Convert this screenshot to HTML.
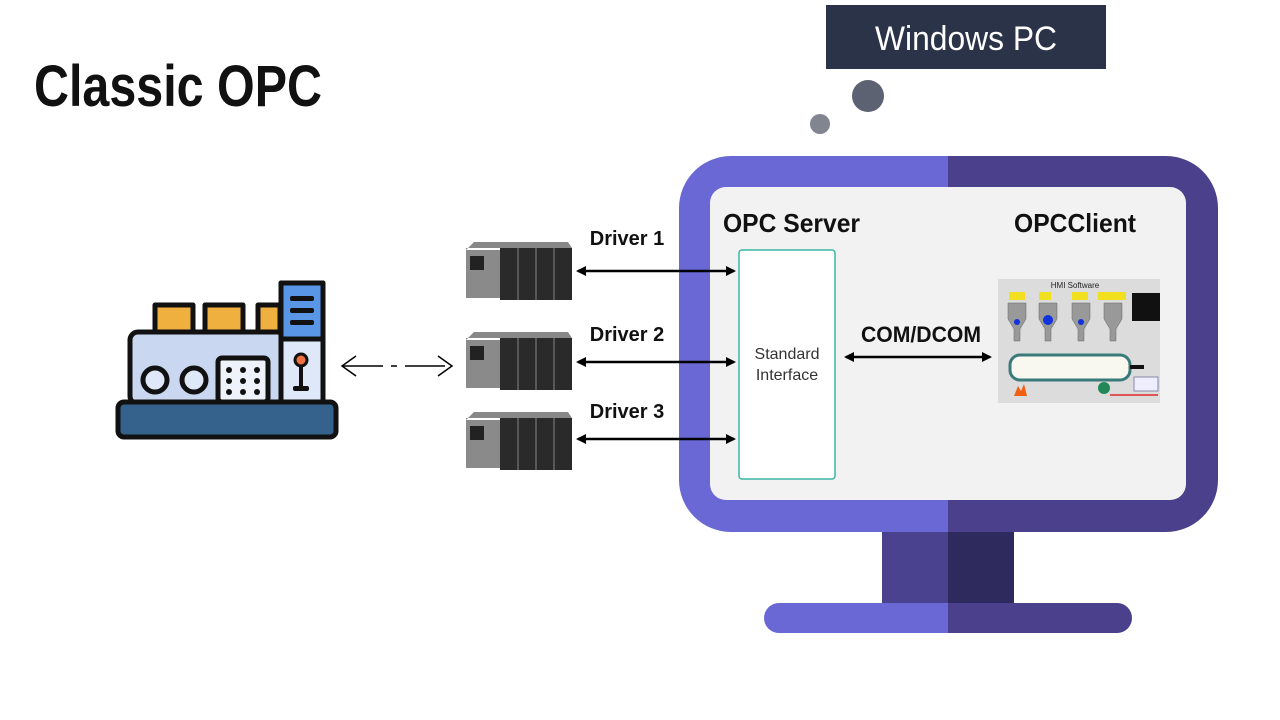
<!DOCTYPE html>
<html><head><style>
body{margin:0;width:1280px;height:720px;background:#fff;overflow:hidden}
svg{display:block}
text{font-family:"Liberation Sans",sans-serif}
</style></head><body>
<svg width="1280" height="720" viewBox="0 0 1280 720">
<defs>
<marker id="ah" markerWidth="10" markerHeight="10" refX="8" refY="5" orient="auto-start-reverse" markerUnits="userSpaceOnUse"><path d="M0,0 L10,5 L0,10 z" fill="#000"/></marker>
<clipPath id="lh"><rect x="0" y="0" width="948" height="720"/></clipPath>
<clipPath id="rh"><rect x="948" y="0" width="400" height="720"/></clipPath>
</defs>
<text x="34" y="106" font-size="58" font-weight="bold" fill="#111" textLength="288" lengthAdjust="spacingAndGlyphs">Classic OPC</text>

<rect x="826" y="5" width="280" height="64" fill="#2b3348"/>
<text x="875" y="50" font-size="34" fill="#fff" textLength="182" lengthAdjust="spacingAndGlyphs">Windows PC</text>
<circle cx="868" cy="96" r="16" fill="#5c6272"/>
<circle cx="820" cy="124" r="10" fill="#80858f"/>

<g clip-path="url(#lh)">
<rect x="679" y="156" width="539" height="376" rx="52" fill="#6a68d4"/>
<rect x="882" y="532" width="132" height="72" fill="#4a428f"/>
<rect x="764" y="603" width="368" height="30" rx="15" fill="#6a68d4"/>
</g>
<g clip-path="url(#rh)">
<rect x="679" y="156" width="539" height="376" rx="52" fill="#4a408b"/>
<rect x="882" y="532" width="132" height="72" fill="#2f2a5e"/>
<rect x="764" y="603" width="368" height="30" rx="15" fill="#4a408b"/>
</g>
<rect x="710" y="187" width="476" height="313" rx="16" fill="#f2f2f2"/>

<text x="723" y="232" font-size="26" font-weight="bold" fill="#111" textLength="137" lengthAdjust="spacingAndGlyphs">OPC Server</text>
<text x="1014" y="232" font-size="26" font-weight="bold" fill="#111" textLength="122" lengthAdjust="spacingAndGlyphs">OPCClient</text>
<rect x="739" y="250" width="96" height="229" rx="3" fill="#fff" stroke="#3ab5a5" stroke-width="1.5"/>
<text x="787" y="359" font-size="16" fill="#333" text-anchor="middle">Standard</text>
<text x="787" y="380" font-size="16" fill="#333" text-anchor="middle">Interface</text>
<text x="861" y="342" font-size="22" font-weight="bold" fill="#111" textLength="120" lengthAdjust="spacingAndGlyphs">COM/DCOM</text>
<line x1="846" y1="357" x2="990" y2="357" stroke="#000" stroke-width="2.5" marker-start="url(#ah)" marker-end="url(#ah)"/>

<rect x="998" y="279" width="162" height="124" fill="#dcdcdc"/>
<text x="1075" y="288" font-size="8" fill="#222" text-anchor="middle">HMI Software</text>
<g fill="#f0e020"><rect x="1009" y="292" width="16" height="8"/><rect x="1039" y="292" width="12" height="8"/><rect x="1072" y="292" width="16" height="8"/><rect x="1098" y="292" width="28" height="8"/></g>
<g fill="#999" stroke="#666" stroke-width="0.5">
<path d="M1008,303 h18 v16 l-6,10 v12 h-6 v-12 l-6,-10z"/>
<path d="M1039,303 h18 v16 l-6,10 v12 h-6 v-12 l-6,-10z"/>
<path d="M1072,303 h18 v16 l-6,10 v12 h-6 v-12 l-6,-10z"/>
<path d="M1104,303 h18 v16 l-6,10 v12 h-6 v-12 l-6,-10z"/>
</g>
<g fill="#1133dd"><circle cx="1017" cy="322" r="3"/><circle cx="1048" cy="320" r="5"/><circle cx="1081" cy="322" r="3"/></g>
<rect x="1132" y="293" width="28" height="28" fill="#111"/>
<rect x="1010" y="355" width="120" height="25" rx="10" fill="#f8f8f0" stroke="#3a7a7a" stroke-width="3"/>
<rect x="1130" y="365" width="14" height="4" fill="#111"/>
<rect x="1134" y="377" width="24" height="14" fill="#eef" stroke="#88a"/>
<circle cx="1104" cy="388" r="6" fill="#228855"/>
<path d="M1014,396 l4,-10 l3,5 l3,-7 l3,12z" fill="#f06010"/>
<line x1="1110" y1="395" x2="1158" y2="395" stroke="#d55" stroke-width="2"/>

<g id="drv">
<rect x="466" y="250" width="38" height="48" fill="#8a8a8a"/>
<rect x="470" y="256" width="14" height="14" fill="#222"/>
<rect x="500" y="248" width="72" height="52" fill="#2a2a2a"/>
<path d="M466,250 l8,-8 h94 l4,6 h-106z" fill="#888"/>
<g stroke="#666" stroke-width="1.5"><line x1="518" y1="248" x2="518" y2="300"/><line x1="536" y1="248" x2="536" y2="300"/><line x1="554" y1="248" x2="554" y2="300"/></g>
</g>
<use href="#drv" y="90"/>
<use href="#drv" y="170"/>
<text x="627" y="245" font-size="20" font-weight="bold" fill="#111" text-anchor="middle">Driver 1</text>
<text x="627" y="341" font-size="20" font-weight="bold" fill="#111" text-anchor="middle">Driver 2</text>
<text x="627" y="418" font-size="20" font-weight="bold" fill="#111" text-anchor="middle">Driver 3</text>
<g stroke="#000" stroke-width="2.5">
<line x1="578" y1="271" x2="734" y2="271" marker-start="url(#ah)" marker-end="url(#ah)"/>
<line x1="578" y1="362" x2="734" y2="362" marker-start="url(#ah)" marker-end="url(#ah)"/>
<line x1="578" y1="439" x2="734" y2="439" marker-start="url(#ah)" marker-end="url(#ah)"/>
</g>
<line x1="343" y1="366" x2="450" y2="366" stroke="#000" stroke-width="1.5" stroke-dasharray="40,8,6,8"/>
<path d="M356,356 L342,366 L356,376 M438,356 L452,366 L438,376" fill="none" stroke="#000" stroke-width="1.5"/>

<g stroke="#111" stroke-width="5" stroke-linejoin="round">
<rect x="155" y="305" width="38" height="30" fill="#f0b040"/>
<rect x="205" y="305" width="38" height="30" fill="#f0b040"/>
<rect x="258" y="305" width="22" height="30" fill="#f0b040"/>
<rect x="130" y="332" width="155" height="72" rx="8" fill="#c9d8f0"/>
<rect x="281" y="283" width="42" height="121" fill="#dfe8f8"/>
<rect x="281" y="283" width="42" height="56" fill="#5a96e6"/>
<rect x="118" y="402" width="218" height="35" rx="6" fill="#34628c"/>
<circle cx="155" cy="380" r="12" fill="#dfe8f8"/>
<circle cx="194" cy="380" r="12" fill="#dfe8f8"/>
<rect x="218" y="358" width="50" height="44" rx="4" fill="#eef2fa"/>
</g>
<g fill="#111"><rect x="290" y="296" width="24" height="5" rx="2"/><rect x="290" y="308" width="24" height="5" rx="2"/><rect x="290" y="320" width="24" height="5" rx="2"/>
<rect x="299" y="362" width="4" height="26"/><rect x="293" y="386" width="16" height="5" rx="2"/>
<circle cx="229" cy="370" r="3"/><circle cx="243" cy="370" r="3"/><circle cx="257" cy="370" r="3"/><circle cx="229" cy="381" r="3"/><circle cx="243" cy="381" r="3"/><circle cx="257" cy="381" r="3"/><circle cx="229" cy="392" r="3"/><circle cx="243" cy="392" r="3"/><circle cx="257" cy="392" r="3"/></g>
<circle cx="301" cy="360" r="6" fill="#f07040" stroke="#111" stroke-width="3"/>
</svg>
</body></html>
